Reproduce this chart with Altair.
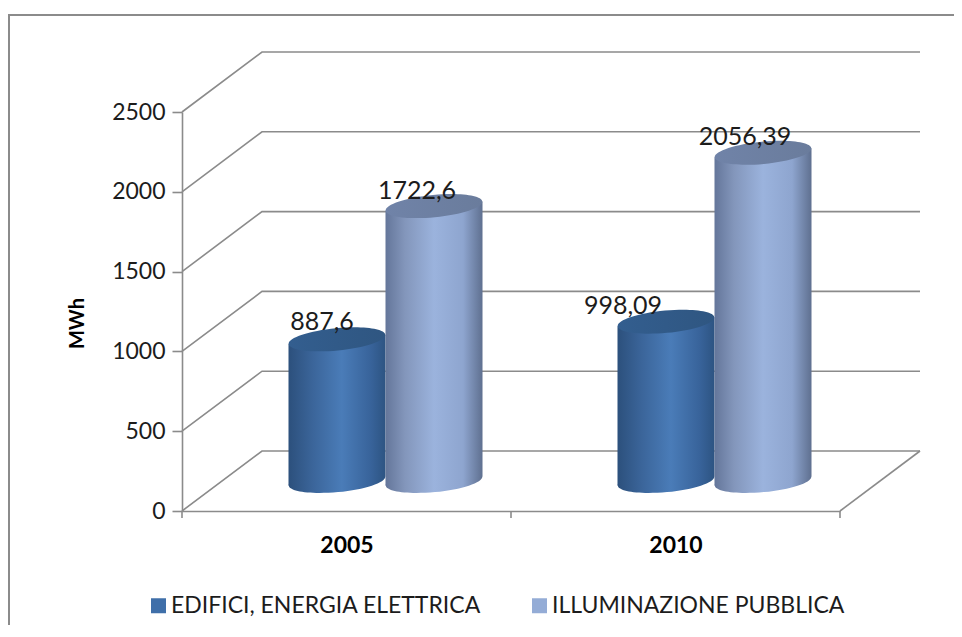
import altair as alt
import pandas as pd

categories = ["2005", "2010"]
series = ["EDIFICI, ENERGIA ELETTRICA", "ILLUMINAZIONE PUBBLICA"]
values = {
    "EDIFICI, ENERGIA ELETTRICA": [887.6, 998.09],
    "ILLUMINAZIONE PUBBLICA": [1722.6, 2056.39],
}
labels = {
    "EDIFICI, ENERGIA ELETTRICA": ["887,6", "998,09"],
    "ILLUMINAZIONE PUBBLICA": ["1722,6", "2056,39"],
}
y_ticks = [0, 500, 1000, 1500, 2000, 2500]

# geometry of the fake 3D box, in data units
W, H = 658, 399
PX = 2 / W          # x units per pixel
PY = 2500 / H       # MWh per pixel
DX = 80 * PX        # depth offset of the back wall
DV = 60 * PY
BASE = 30 * PY      # cylinders stand mid-way in the depth
BW = 97 * PX        # cylinder width
TILT = 4.5 * PY
SHIFT = -1 * PX

GRID = "#8b8b8b"
TEXT = "#1c1c1c"
FONT = "Lato"

def grad(stops):
    return alt.Gradient(
        gradient="linear", x1=0, x2=1, y1=0, y2=0,
        stops=[alt.GradientStop(color=c, offset=o) for o, c in stops],
    )

body = {
    series[0]: grad([(0, "#2c507c"), (0.25, "#3b659a"), (0.55, "#4a7cb8"), (0.85, "#38639a"), (1, "#2d5482")]),
    series[1]: grad([(0, "#64769a"), (0.2, "#8396bb"), (0.5, "#9bb3dd"), (0.8, "#8ea5cf"), (1, "#5f7090")]),
}
cap = {
    series[0]: grad([(0, "#335e8f"), (1, "#2f5681")]),
    series[1]: grad([(0, "#7083a8"), (1, "#6a7c9c")]),
}
legend_colors = ["#3f6fa9", "#94acd6"]
label_offsets = {
    (series[0], 0): (-15, -17),
    (series[1], 0): (-17, -15),
    (series[0], 1): (-43, -16),
    (series[1], 1): (-18, -16),
}
ELLIPSE = "M-0.9956,0.094A1,0.23,-5.4,1,1,0.9956,-0.094A1,0.23,-5.4,1,1,-0.9956,0.094Z"
E_SIZE = 97 ** 2

x_q = alt.X("x:Q", scale=alt.Scale(domain=[0, 2], nice=False, zero=False),
            axis=alt.Axis(values=[0.5, 1.5], title=None, grid=False, ticks=False,
                          labelExpr="datum.value < 1 ? '%s' : '%s'" % tuple(categories),
                          labelFont=FONT, labelFontSize=23, labelFontWeight="bold", labelColor="#000000",
                          labelPadding=23, domainColor=GRID, domainWidth=1.6))
y_q = alt.Y("y:Q", scale=alt.Scale(domain=[0, 2500], nice=False, zero=False),
            axis=alt.Axis(values=y_ticks, format="d", title="MWh", grid=False, tickColor=GRID, tickWidth=1.6, tickSize=10,
                          labelFont=FONT, labelFontSize=23, labelColor=TEXT, labelPadding=7,
                          labelFontWeight="normal", titleFont=FONT, titleFontSize=20, titleFontWeight="bold",
                          titleColor="#000000", titleX=-95, titleY=211, domainColor=GRID, domainWidth=1.6))

layers = []

# walls and floor
wall_rows = []
for v in y_ticks:
    wall_rows += [
        {"line": v, "o": 0, "x": 0, "y": v},
        {"line": v, "o": 1, "x": DX, "y": v + DV},
        {"line": v, "o": 2, "x": 2 + DX, "y": v + DV},
    ]
wall_rows += [
    {"line": -1, "o": 0, "x": 2 + DX, "y": DV},
    {"line": -1, "o": 1, "x": 2, "y": 0},
]
walls = alt.Chart(pd.DataFrame(wall_rows)).mark_line(color=GRID, strokeWidth=1.6).encode(
    x=x_q, y=y_q, detail="line:N", order="o:Q")
layers.append(walls)

# x ticks
ticks = alt.Chart(pd.DataFrame({"x": [0, 1, 2], "y": [0, 0, 0], "y2": [-7 * PY] * 3})).mark_rule(
    color=GRID, strokeWidth=1.6).encode(x=alt.X("x:Q"), y=alt.Y("y:Q"), y2="y2:Q")
layers.append(ticks)

# cylinders
text_layers = []
for i, cat in enumerate(categories):
    centre = i + 0.5 + DX / 2 + SHIFT
    for j, s in enumerate(series):
        v = values[s][i]
        xc = centre + (j - 0.5) * BW
        base = alt.Chart(pd.DataFrame({"x": [xc], "y": [BASE]})).mark_point(
            shape=ELLIPSE, size=E_SIZE, filled=True, fill=body[s], opacity=1, strokeWidth=0
        ).encode(x=alt.X("x:Q"), y=alt.Y("y:Q"))
        side = alt.Chart(pd.DataFrame({
            "x": [xc - BW / 2, xc + BW / 2],
            "y": [BASE + v - TILT, BASE + v + TILT],
            "y2": [BASE - TILT, BASE + TILT],
        })).mark_area(color=body[s], orient="vertical", opacity=1).encode(
            x=alt.X("x:Q"), y=alt.Y("y:Q"), y2="y2:Q")
        top = alt.Chart(pd.DataFrame({"x": [xc], "y": [BASE + v]})).mark_point(
            shape=ELLIPSE, size=E_SIZE, filled=True, fill=cap[s], opacity=1, strokeWidth=0
        ).encode(x=alt.X("x:Q"), y=alt.Y("y:Q"))
        layers += [base, side, top]
        dx, dy = label_offsets[(s, i)]
        text_layers.append(
            alt.Chart(pd.DataFrame({"x": [xc], "y": [BASE + v], "t": [labels[s][i]]})).mark_text(
                font=FONT, fontSize=25, color=TEXT, dx=dx, dy=dy
            ).encode(x=alt.X("x:Q"), y=alt.Y("y:Q"), text="t:N")
        )
layers += text_layers

# outer frame
frame_left = alt.Chart(pd.DataFrame({"a": [0]})).mark_rule(color=GRID, strokeWidth=2).encode(
    x=alt.value(-173), y=alt.value(-98), y2=alt.value(520))
frame_top = alt.Chart(pd.DataFrame({"a": [0]})).mark_rule(color=GRID, strokeWidth=2).encode(
    x=alt.value(-173), x2=alt.value(790), y=alt.value(-97))
layers += [frame_left, frame_top]

# legend
legend = alt.Chart(pd.DataFrame({"s": series, "x": [0, 0], "y": [0, 0]})).mark_square(opacity=0, size=1).encode(
    x=alt.X("x:Q"), y=alt.Y("y:Q"),
    color=alt.Color("s:N", scale=alt.Scale(domain=series, range=legend_colors),
                    legend=alt.Legend(orient="none", legendX=-35, legendY=482, direction="horizontal",
                                      title=None, symbolType="square", symbolSize=225, symbolOpacity=1,
                                      symbolStrokeWidth=0, labelFont=FONT, labelFontSize=23, labelColor=TEXT,
                                      labelLimit=500, labelOffset=1, columns=2, columnPadding=47)),
)
layers.append(legend)

chart = alt.layer(*layers).properties(
    width=W, height=H,
    padding={"left": 174, "top": 104, "right": 114, "bottom": 114},
    autosize=alt.AutoSizeParams(type="none"),
    background="white",
).configure_view(stroke=None)

chart.save("out.html", embed_options={"renderer": "svg", "actions": False})
